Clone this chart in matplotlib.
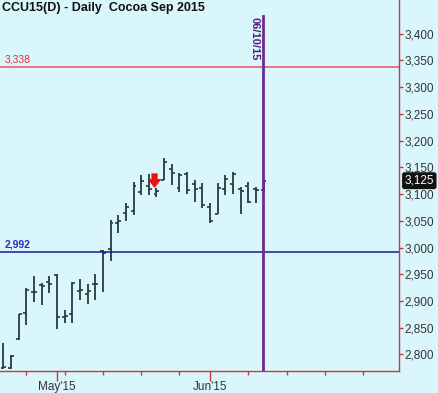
import numpy as np
import matplotlib
matplotlib.use('Agg')
import matplotlib.pyplot as plt
from matplotlib.ticker import FuncFormatter

plt.rcParams['font.family'] = ['Liberation Sans', 'DejaVu Sans']

# daily bars, CCU15 (Cocoa Sep 2015)
dates = ['2015-04-22', '2015-04-23', '2015-04-24', '2015-04-27', '2015-04-28',
         '2015-04-29', '2015-04-30', '2015-05-01', '2015-05-04', '2015-05-05',
         '2015-05-06', '2015-05-07', '2015-05-08', '2015-05-11', '2015-05-12',
         '2015-05-13', '2015-05-14', '2015-05-15', '2015-05-18', '2015-05-19',
         '2015-05-20', '2015-05-21', '2015-05-22', '2015-05-26', '2015-05-27',
         '2015-05-28', '2015-05-29', '2015-06-01', '2015-06-02', '2015-06-03',
         '2015-06-04', '2015-06-05', '2015-06-08', '2015-06-09', '2015-06-10']
opens = [2775, 2775, 2829, 2877, 2917, 2929, 2935, 2949, 2870, 2876,
         2919, 2913, 2931, 2993, 2997, 3045, 3064, 3068, 3104, 3115,
         3100, 3127, 3146, 3111, 3138, 3118, 3112, 3075, 3063, 3110,
         3118, 3110, 3115, 3110, 3108]
highs = [2821, 2798, 2876, 2924, 2946, 2934, 2946, 2950, 2883, 2935,
         2941, 2932, 2950, 2995, 3051, 3061, 3083, 3122, 3136, 3137,
         3112, 3167, 3156, 3139, 3142, 3127, 3121, 3083, 3120, 3136,
         3142, 3114, 3123, 3114, 3127]
lows = [2773, 2773, 2827, 2855, 2899, 2892, 2915, 2847, 2859, 2859,
        2902, 2894, 2902, 2917, 2975, 3027, 3050, 3061, 3098, 3099,
        3094, 3126, 3117, 3104, 3101, 3086, 3073, 3045, 3063, 3098,
        3101, 3063, 3084, 3084, 3102]
closes = [2776, 2797, 2875, 2920, 2916, 2928, 2932, 2870, 2872, 2933,
          2921, 2918, 2932, 2990, 3045, 3050, 3076, 3115, 3125, 3110,
          3105, 3160, 3140, 3135, 3108, 3110, 3080, 3050, 3112, 3128,
          3138, 3105, 3085, 3108, 3125]

holidays = ['2015-05-25']
month_ticks = ['2015-05-01', '2015-06-01']
month_labels = ["May'15", "Jun'15"]
week_ticks = ['2015-04-27', '2015-05-04', '2015-05-11', '2015-05-18', '2015-05-26',
              '2015-06-08', '2015-06-15', '2015-06-22', '2015-06-29']

red_level = 3338
blue_level = 2992
vline_date = '2015-06-10'
signal_date = '2015-05-20'
last_price = 3125

BG = '#d9f6fd'
BAR = '#2a3838'


def pos(d):
    return np.busday_count(dates[0], d, holidays=holidays)


x = np.array([pos(d) for d in dates])

fig = plt.figure(figsize=(4.39, 3.93), dpi=100, facecolor=BG)
ax = fig.add_axes([0, 22 / 393, 399 / 439, 371 / 393])
ax.set_facecolor(BG)

ax.vlines(x, lows, highs, color=BAR, lw=1.3)
ax.hlines(opens, x - 0.38, x, color=BAR, lw=1.2)
ax.hlines(closes, x, x + 0.38, color=BAR, lw=1.2)

ax.set_xlim(-0.45, 51.7)
ax.set_ylim(2769, 3463)

# levels
ax.axhline(red_level, color='#e85555', lw=1.1)
ax.text(0.2, red_level + 4, '{:,}'.format(red_level), color='#e03030',
        fontsize=7.5, va='bottom', ha='left')
ax.axhline(blue_level, color='#1a1a9a', lw=1.1)
ax.text(0.2, blue_level + 4, '{:,}'.format(blue_level), color='#2a2ac0',
        fontsize=7.5, fontweight='bold', va='bottom', ha='left')

# date line
xv = pos(vline_date) - 0.12
ax.axvline(xv, ymax=0.957, color='#6a2a90', lw=2)
ax.text(xv - 0.4, 3432, vline_date[5:7] + '/' + vline_date[8:] + '/' + vline_date[2:4],
        rotation=270, color='#5a1a7a', fontsize=8, fontweight='bold',
        ha='right', va='top')

# signal arrow
xs = pos(signal_date) - 0.25
hs = highs[dates.index(signal_date)]
ax.annotate('', xy=(xs, hs - 6), xytext=(xs, hs + 32),
            arrowprops=dict(arrowstyle='simple,head_width=1.0,head_length=0.65,tail_width=0.45',
                            mutation_scale=10, color='#ee1111', lw=0))

# axes styling
for s in ['left', 'top']:
    ax.spines[s].set_visible(False)
for s in ['right', 'bottom']:
    ax.spines[s].set_color('#c83a3a')
    ax.spines[s].set_linewidth(1)

ax.yaxis.tick_right()
ax.set_yticks(np.arange(2800, 3401, 50))
ax.yaxis.set_major_formatter(FuncFormatter(lambda v, p: '{:,}'.format(int(v))))
ax.tick_params(axis='y', direction='out', length=3, width=1, color='#c83a3a',
               labelsize=8.5, labelcolor='#333333', pad=1)

ax.set_xticks([pos(d) for d in month_ticks])
ax.set_xticklabels(month_labels)
ax.set_xticks([pos(d) for d in week_ticks], minor=True)
ax.tick_params(axis='x', which='major', direction='out', length=7, width=1,
               color='#c83a3a', labelsize=8.5, labelcolor='#333333', pad=0)
ax.tick_params(axis='x', which='minor', direction='out', length=3, width=1,
               color='#c83a3a')

# last price box
ax.annotate('{:,}'.format(last_price), xy=(1.0, last_price), xycoords=('axes fraction', 'data'),
            xytext=(4, 0), textcoords='offset points', color='white', fontsize=8.5,
            va='center', ha='left',
            bbox=dict(boxstyle='round,pad=0.15', fc='#111111', ec='#111111'),
            annotation_clip=False)

fig.text(2 / 439, 1 - 2 / 393, 'CCU15(D) - Daily  Cocoa Sep 2015', fontsize=9,
         fontweight='bold', color='#111111', ha='left', va='top')

fig.savefig('out.png', dpi=100, facecolor=BG)
